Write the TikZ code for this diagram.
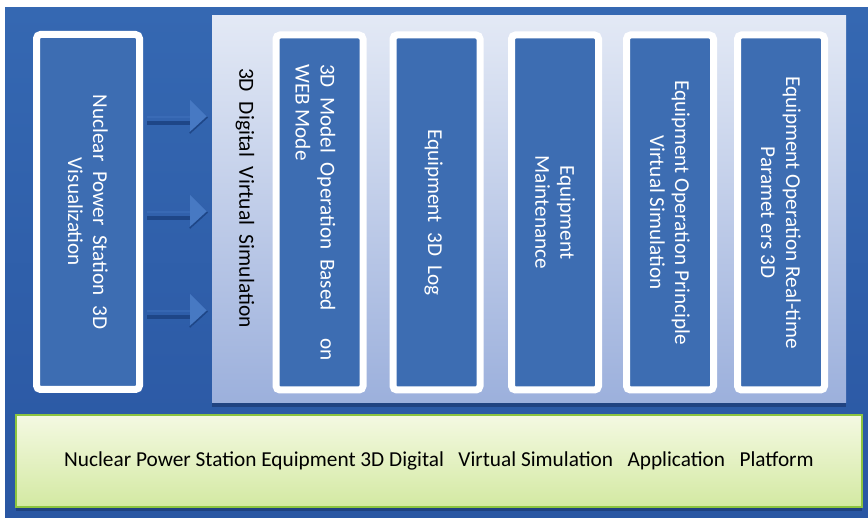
\documentclass[tikz,border=0pt]{standalone}
\usepackage{fontspec}
\setmainfont{Carlito}
\usetikzlibrary{shapes.arrows,shadows}

\definecolor{bgtop}{HTML}{3568B2}
\definecolor{bgbot}{HTML}{2A57A3}
\definecolor{boxblue}{HTML}{3D6DB2}
\definecolor{paneltop}{HTML}{E3E9F5}
\definecolor{panelbot}{HTML}{9CB0DC}
\definecolor{greentop}{HTML}{F4F9E2}
\definecolor{greenbot}{HTML}{D3E9A2}
\definecolor{greenline}{HTML}{8CC43F}
\definecolor{arrowfill}{HTML}{4779C3}
\definecolor{arrowdark}{HTML}{1E4687}
\definecolor{navyshadow}{HTML}{1B3A72}

\tikzset{
  modbox/.style={draw=white, line width=7pt, fill=boxblue, rounded corners=4pt,
    inner sep=0pt, minimum height=355pt,
    drop shadow={shadow xshift=0.5pt, shadow yshift=-2.5pt, opacity=0.35, fill=black}},
  vtext/.style={rotate=-90, text=white, align=center, inner sep=0pt,
    font=\fontsize{21.2}{25}\selectfont},
  panelbox/.style={top color=paneltop, bottom color=panelbot, draw=none,
    inner sep=0pt, minimum width=634pt, minimum height=387pt,
    drop shadow={shadow xshift=0pt, shadow yshift=-4pt, opacity=0.7, fill=navyshadow}},
  platform/.style={top color=greentop, bottom color=greenbot, draw=greenline,
    line width=1.5pt, inner sep=0pt, minimum width=846pt, minimum height=92pt,
    font=\fontsize{21.3}{25}\selectfont, text=black,
    drop shadow={shadow xshift=0pt, shadow yshift=-4pt, opacity=0.7, fill=navyshadow}},
  blockarrow/.style={single arrow, single arrow tip angle=90,
    single arrow head extend=8.5pt, minimum height=60pt, minimum width=34pt,
    inner sep=0pt, fill=arrowfill, draw=none},
  arrowedge/.style={draw=arrowdark, line width=1.6pt, line join=miter}
}

\begin{document}
\begin{tikzpicture}[x=1pt,y=-1pt]
  % page and blue backdrop
  \fill[white] (0,0) rectangle (868,518);
  \useasboundingbox (0,0) rectangle (868,518);
  \shade[top color=bgtop, bottom color=bgbot] (5,8) rectangle (868,518);

  % simulation panel
  \node[panelbox] (sim) at (529,209.5) {};
  \node[rotate=-90, text=black, inner sep=0pt,
        font=\fontsize{21.5}{25}\selectfont] (simtitle) at (245,198)
        {3D\ \ Digital\ \ Virtual\ \ Simulation};

  % visualization box on the left
  \node[modbox, minimum width=103pt] (vis) at (88,212) {};
  \node[vtext] (vistext) at (vis.center)
        {Nuclear\ \ Power\ \ Station\ \ 3D\\Visualization};

  % arrows from the visualization box into the panel, dark lower edges
  \foreach \n/\y in {a1/117, a2/212, a3/311}{
    \node[blockarrow] (\n) at (177,\y) {};
    \fill[arrowdark] ([yshift=-4pt]\n.west) rectangle ([xshift=-17pt,yshift=-8.5pt]\n.east);
    \draw[arrowedge] ([xshift=-17.8pt,yshift=-16.2pt]\n.east) -- (\n.east);
  }

  % function modules inside the panel
  \node[modbox, minimum width=87pt] (m1) at (319.5,212.5) {};
  \node[modbox, minimum width=87pt] (m2) at (436.5,212.5) {};
  \node[modbox, minimum width=87pt] (m3) at (555,212.5) {};
  \node[modbox, minimum width=87pt] (m4) at (670,212.5) {};
  \node[modbox, minimum width=87pt] (m5) at (781,212.5) {};

  \node[vtext, align=left] (m1text) at ([xshift=-4pt]m1.center)
        {3D\ \ Model\ \ Operation\ \ Based\hspace{1.3em}on\\WEB Mode};
  \node[vtext] (m2text) at ([xshift=-3pt]m2.center) {Equipment\ \ 3D\ \ Log};
  \node[vtext] (m3text) at (m3.center) {Equipment\\Maintenance};
  \node[vtext] (m4text) at (m4.center)
        {Equipment Operation Principle\\Virtual Simulation};
  \node[vtext] (m5text) at (m5.center)
        {Equipment Operation Real-time\\Paramet ers 3D};

  % platform bar
  \node[platform] (plat) at (439,461)
        {Nuclear Power Station Equipment 3D Digital\ \ \ Virtual Simulation\ \ \ Application\ \ \ Platform};
\end{tikzpicture}
\end{document}
